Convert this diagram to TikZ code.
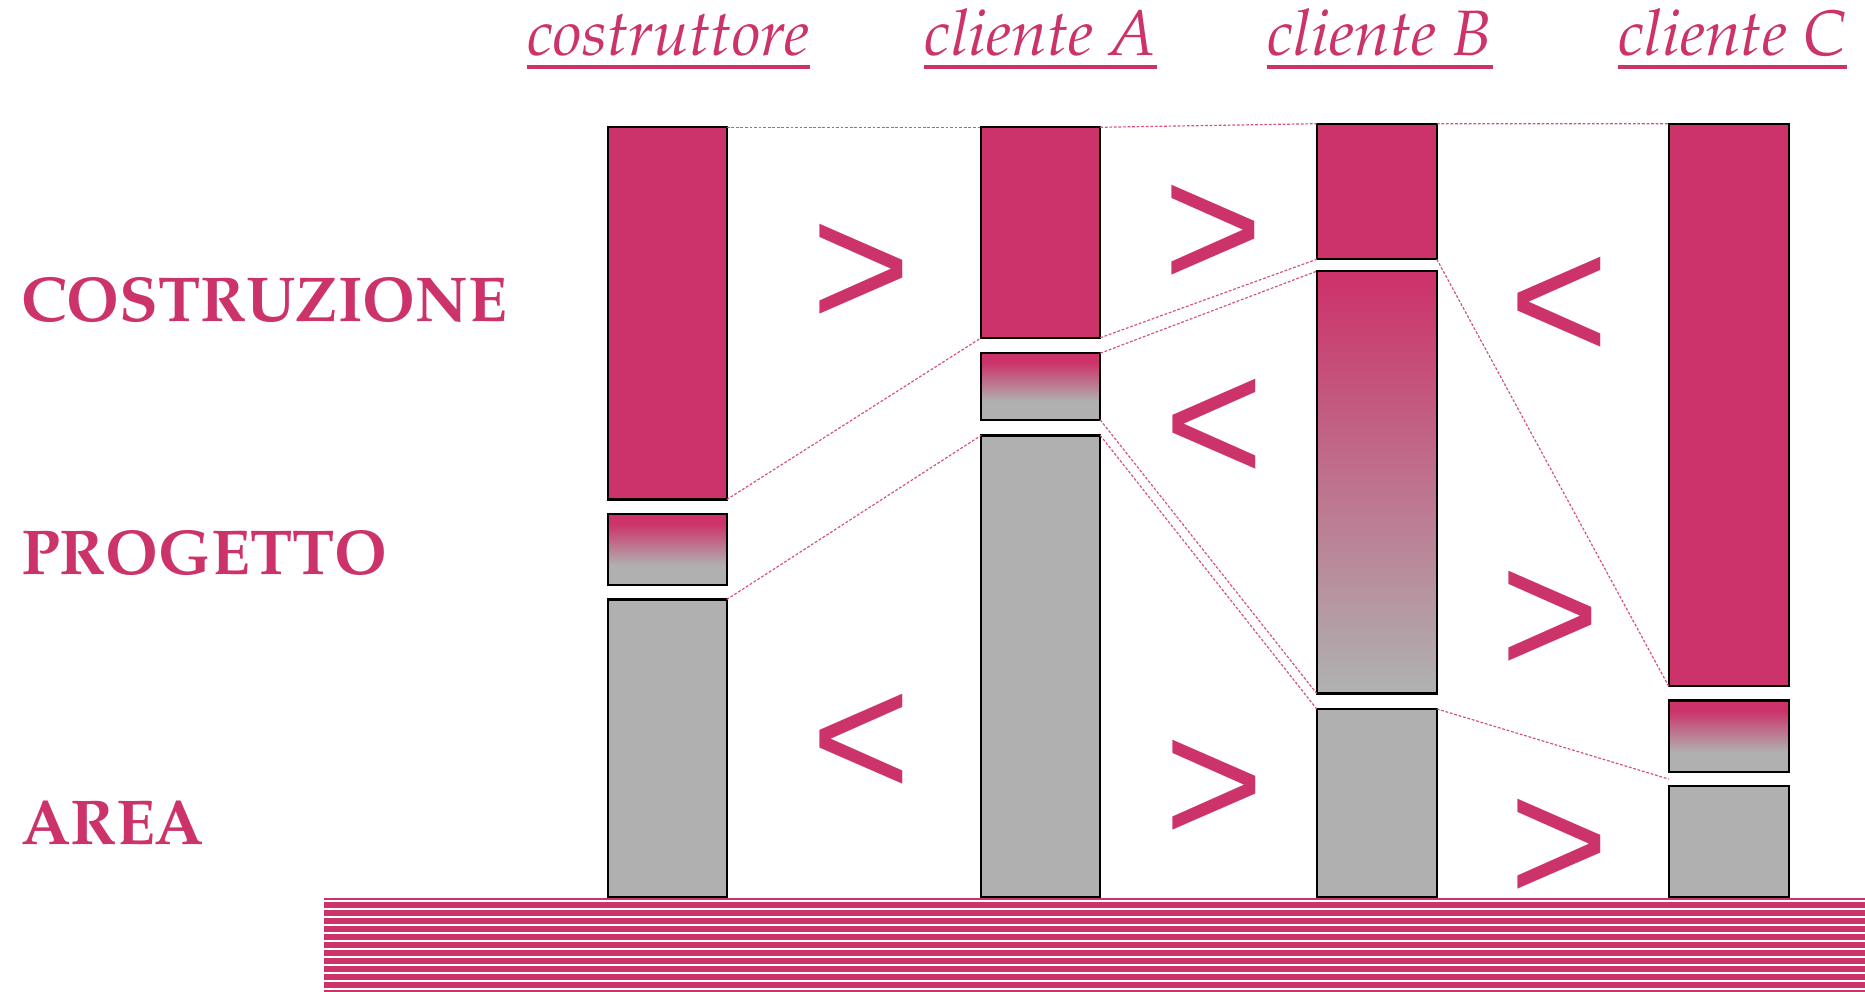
\documentclass[tikz,border=0pt]{standalone}
\usepackage[T1]{fontenc}
\usepackage{fontspec}
\usepackage{graphicx}
\newfontfamily\cmpfont{Liberation Sans}
\usetikzlibrary{fit,calc}

\definecolor{rosa}{RGB}{204,51,106}
\definecolor{grigio}{RGB}{176,176,176}

% Palatino-like serif when available, Latin Modern otherwise
\IfFileExists{t1ppl.fd}{%
  \newcommand\palit{\fontencoding{T1}\fontfamily{ppl}\fontseries{m}\fontshape{it}\selectfont}%
  \newcommand\palbf{\fontencoding{T1}\fontfamily{ppl}\fontseries{b}\fontshape{n}\selectfont}%
}{\IfFileExists{t1qpl.fd}{%
  \newcommand\palit{\fontencoding{T1}\fontfamily{qpl}\fontseries{m}\fontshape{it}\selectfont}%
  \newcommand\palbf{\fontencoding{T1}\fontfamily{qpl}\fontseries{b}\fontshape{n}\selectfont}%
}{%
  \newcommand\palit{\rmfamily\mdseries\itshape}%
  \newcommand\palbf{\rmfamily\bfseries\upshape}%
}}

% comparison sign, slightly stretched vertically
\newcommand\cmpsign[1]{\scalebox{1}[1.04]{#1}}

% short transition boxes: pink on top, fading to grey
\pgfdeclareverticalshading{fase}{100bp}{color(0bp)=(grigio); color(39bp)=(grigio); color(68bp)=(rosa); color(100bp)=(rosa)}
% long transition box: even fade over the full height
\pgfdeclareverticalshading{fasel}{100bp}{color(0bp)=(grigio); color(26bp)=(grigio); color(74bp)=(rosa); color(100bp)=(rosa)}

\tikzset{
  box/.style={draw=black, line width=0.6pt, inner sep=0pt, outer sep=0pt},
  redbox/.style={box, fill=rosa},
  graybox/.style={box, fill=grigio},
  fadebox/.style={box, shade, shading=fase},
  longfade/.style={box, shade, shading=fasel},
  link/.style={draw=rosa!85, line width=0.3pt, dash pattern=on 0.7pt off 0.45pt},
  head/.style={text=rosa, font=\fontsize{16.2}{18}\palit, inner sep=0pt, anchor=base west},
  phase/.style={text=rosa, font=\fontsize{16}{18}\palbf, inner sep=0pt, anchor=base west},
  cmp/.style={text=rosa, font=\fontsize{43}{43}\cmpfont, inner sep=0pt, xshift=0.6pt, yshift=-2.1pt},
  headrule/.style={draw=rosa, line width=1pt},
}

\begin{document}
\begin{tikzpicture}[x=0.3pt, y=-0.3pt]
\useasboundingbox (0,0) rectangle (1568,834);

% column headers
\node[head] (h1) at (443,47) {costruttore};
\node[head] (h2) at (777,47) {cliente A};
\node[head] (h3) at (1065,47) {cliente B};
\node[head] (h4) at (1360,47) {cliente C};
\foreach \h in {h1,h2,h3,h4}
  \draw[headrule] ($(\h.base west)+(0,9)$) -- ($(\h.base east)+(0,9)$);

% phase labels
\node[phase] (l1) at (17,270) {COSTRUZIONE};
\node[phase] (l2) at (17,483) {PROGETTO};
\node[phase] (l3) at (17,710) {AREA};

% ground stripes
\begin{scope}
  \clip (272.4,750) rectangle (1568,834);
  \fill[rosa] (272.4,755.0) rectangle (1568,756.7);
  \foreach \i in {0,...,11}
    \fill[rosa] (272.4,{758.4+6.726*\i}) rectangle (1568,{763.4+6.726*\i});
\end{scope}

% costruttore
\node[redbox,  fit={(511,107) (611,420)}] (c1r) {};
\node[fadebox, fit={(511,432) (611,492)}] (c1p) {};
\node[graybox, fit={(511,504) (611,754)}] (c1a) {};
% cliente A
\node[redbox,  fit={(825,107) (925,284)}] (c2r) {};
\node[fadebox, fit={(825,297) (925,353)}] (c2p) {};
\node[graybox, fit={(825,366) (925,754)}] (c2a) {};
% cliente B
\node[redbox,   fit={(1107,104) (1208,218)}] (c3r) {};
\node[longfade, fit={(1107,228) (1208,583)}] (c3p) {};
\node[graybox,  fit={(1107,596) (1208,754)}] (c3a) {};
% cliente C
\node[redbox,  fit={(1403,104) (1504,577)}] (c4r) {};
\node[fadebox, fit={(1403,589) (1504,649)}] (c4p) {};
\node[graybox, fit={(1403,661) (1504,754)}] (c4a) {};

% dotted links between matching boundaries
\draw[link] (c1r.north east) -- (c2r.north west);
\draw[link] (c2r.north east) -- (c3r.north west);
\draw[link] (c3r.north east) -- (c4r.north west);
\draw[link] (c1r.south east) -- (c2r.south west);
\draw[link] (c1a.north east) -- (c2a.north west);
\draw[link] (c2r.south east) -- (c3r.south west);
\draw[link] (c2p.north east) -- (c3p.north west);
\draw[link] (c2p.south east) -- (c3p.south west);
\draw[link] (c2a.north east) -- (c3a.north west);
\draw[link] (c3r.south east) -- (c4r.south west);
\coordinate (c4gap) at ($(c4p.south west)!0.5!(c4a.north west)$);
\draw[link] (c3a.north east) -- (c4gap);

% comparison signs
\node[cmp] (s1) at (722,225) {\cmpsign{>}};
\node[cmp] (s2) at (722,620) {\cmpsign{<}};
\node[cmp] (s3) at (1018,192) {\cmpsign{>}};
\node[cmp] (s4) at (1019,355) {\cmpsign{<}};
\node[cmp] (s5) at (1019,659) {\cmpsign{>}};
\node[cmp] (s6) at (1309,253) {\cmpsign{<}};
\node[cmp] (s7) at (1301,517) {\cmpsign{>}};
\node[cmp] (s8) at (1309,708) {\cmpsign{>}};
\end{tikzpicture}
\end{document}
